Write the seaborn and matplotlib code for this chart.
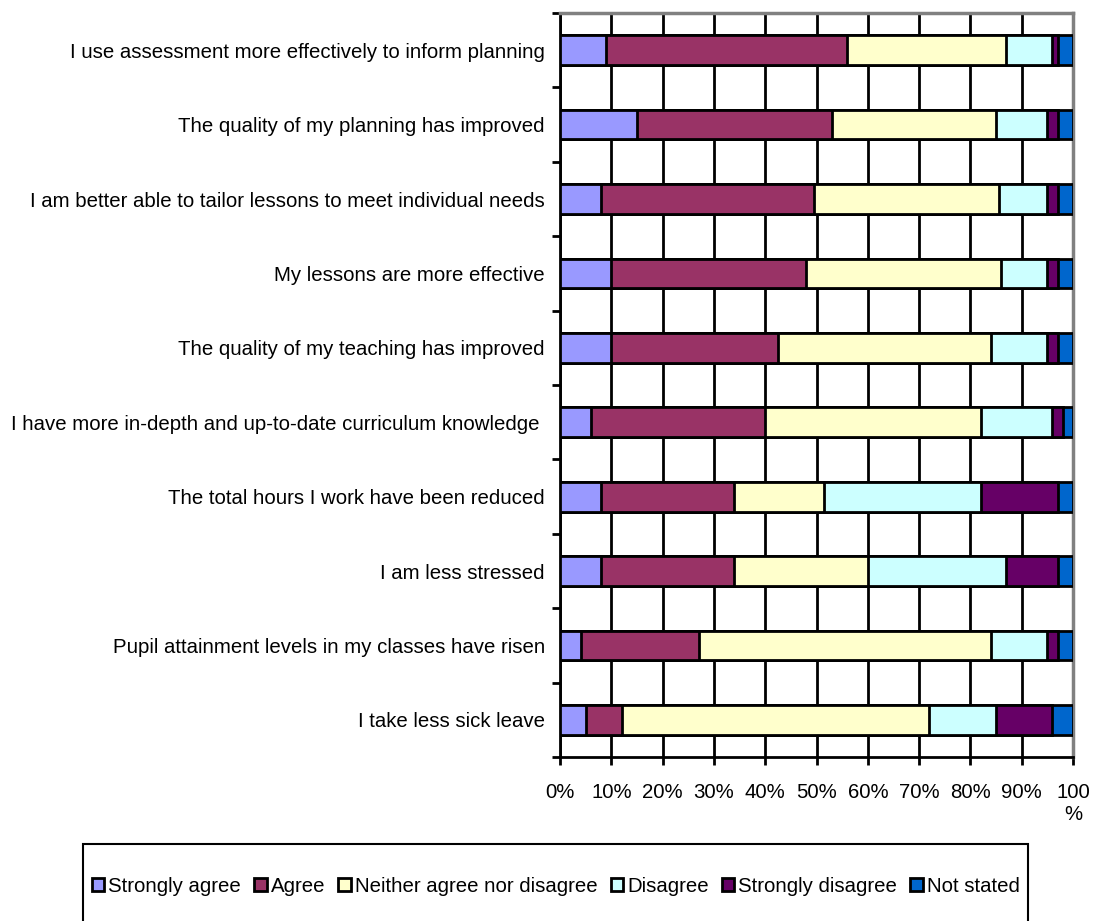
import numpy as np
import pandas as pd

import matplotlib
matplotlib.use("Agg")
import matplotlib.pyplot as plt
from matplotlib.patches import Rectangle

import seaborn as sns


statements = [
    "I use assessment more effectively to inform planning",
    "The quality of my planning has improved",
    "I am better able to tailor lessons to meet individual needs",
    "My lessons are more effective",
    "The quality of my teaching has improved",
    "I have more in-depth and up-to-date curriculum knowledge ",
    "The total hours I work have been reduced",
    "I am less stressed",
    "Pupil attainment levels in my classes have risen",
    "I take less sick leave",
]

strongly_agree = [9, 15, 8, 10, 10, 6, 8, 8, 4, 5]
agree = [47, 38, 41.5, 38, 32.5, 34, 26, 26, 23, 7]
neither = [31, 32, 36, 38, 41.5, 42, 17.5, 26, 57, 60]
disagree = [9, 10, 9.5, 9, 11, 14, 30.5, 27, 11, 13]
strongly_disagree = [1, 2, 2, 2, 2, 2, 15, 10, 2, 11]
not_stated = [3, 3, 3, 3, 3, 2, 3, 3, 3, 4]

series_names = ["Strongly agree", "Agree", "Neither agree nor disagree",
                "Disagree", "Strongly disagree", "Not stated"]
colors = ["#9999FF", "#993366", "#FFFFCC", "#CCFFFF", "#660066", "#0066CC"]

x_ticks = list(range(0, 101, 10))
x_labels = [f"{t}%" for t in x_ticks[:-1]] + ["100\n%"]

df = pd.DataFrame({
    "Strongly agree": strongly_agree,
    "Agree": agree,
    "Neither agree nor disagree": neither,
    "Disagree": disagree,
    "Strongly disagree": strongly_disagree,
    "Not stated": not_stated,
}, index=statements)
cum = df.cumsum(axis=1)

sns.set_style("white")
plt.rcParams['font.family'] = ['Liberation Sans', 'DejaVu Sans']
plt.rcParams['text.color'] = 'black'
plt.rcParams['xtick.color'] = 'black'
plt.rcParams['ytick.color'] = 'black'

FS = 14.7

fig = plt.figure(figsize=(10.93, 9.21), dpi=100)
ax = fig.add_axes([0.5124, 0.178, 0.4693, 0.8079])

# stacked bars: draw the cumulative totals from the largest down
for name, color in reversed(list(zip(series_names, colors))):
    sns.barplot(x=cum[name].values, y=statements, orient='h', color=color,
                saturation=1, width=0.4, edgecolor='black', linewidth=2,
                errorbar=None, label=name, legend=False, ax=ax, zorder=3)

handles, labels = ax.get_legend_handles_labels()
if ax.get_legend() is not None:
    ax.get_legend().remove()

ax.set_xlim(0, 100)
ax.set_ylim(9.5, -0.5)
ax.set_axisbelow(True)
ax.xaxis.grid(True, color='black', linewidth=2)
ax.yaxis.grid(False)

ax.set_xticks(x_ticks)
ax.set_xticklabels(x_labels, fontsize=FS)
ax.set_yticks(np.arange(-0.5, 10, 1))
ax.set_yticklabels([])
ax.set_yticks(range(len(statements)), minor=True)
ax.set_yticklabels(statements, minor=True, fontsize=FS)

ax.tick_params(axis='x', bottom=True, length=6, width=2, direction='out', pad=13)
ax.tick_params(axis='y', which='major', left=True, length=6, width=2, direction='out')
ax.tick_params(axis='y', which='minor', left=True, length=0, pad=11)
ax.set_xlabel("")
ax.set_ylabel("")

for side in ['left', 'bottom']:
    ax.spines[side].set_color('black')
    ax.spines[side].set_linewidth(2)
for side in ['top', 'right']:
    ax.spines[side].set_color('#808080')
    ax.spines[side].set_linewidth(2.5)

fig.legend(handles[::-1], labels[::-1], ncol=6, loc='center',
           bbox_to_anchor=(0.5085, 0.038), frameon=False, fontsize=FS,
           handlelength=0.6, handleheight=0.6, handletextpad=0.2,
           columnspacing=0.65)
fig.add_artist(Rectangle((0.0759, -0.01), 0.8646, 0.0936, transform=fig.transFigure,
                         fill=False, edgecolor='black', linewidth=1.5))

fig.savefig("out.png", dpi=100)
